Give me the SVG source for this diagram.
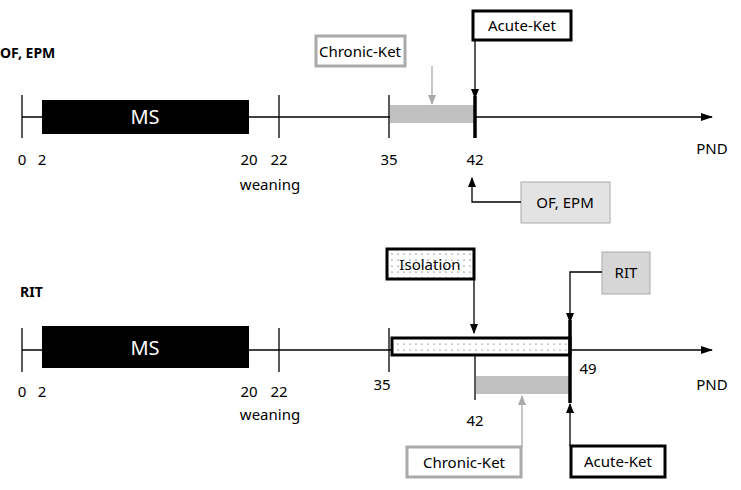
<svg xmlns="http://www.w3.org/2000/svg" width="741" height="490" viewBox="0 0 741 490">
<defs>
<marker id="ab" markerWidth="10" markerHeight="10" refX="9" refY="5" orient="auto" markerUnits="userSpaceOnUse" viewBox="0 0 10 10"><path d="M0,1 L10,5 L0,9 Z" fill="#000"/></marker>
<marker id="ag" markerWidth="10" markerHeight="10" refX="9" refY="5" orient="auto" markerUnits="userSpaceOnUse" viewBox="0 0 10 10"><path d="M0,1 L10,5 L0,9 Z" fill="#aaa"/></marker>
<marker id="ae" markerWidth="12" markerHeight="10" refX="11" refY="5" orient="auto" markerUnits="userSpaceOnUse" viewBox="0 0 12 10"><path d="M0,1 L12,5 L0,9 Z" fill="#000"/></marker>
<pattern id="dots" width="6" height="6" patternUnits="userSpaceOnUse"><rect width="6" height="6" fill="#fff"/><circle cx="2" cy="2" r="0.6" fill="#333"/></pattern>
</defs>
<style>
text{font-family:"Noto Sans","DejaVu Sans",sans-serif;font-size:15px;fill:#000}
.c{text-anchor:middle}
.b{font-weight:bold;font-size:14px}
.ms{fill:#fff;font-size:20px}
.ln{stroke:#000;stroke-width:1.3;fill:none}
.tk{stroke:#000;stroke-width:3.5}
.gbar{fill:#c0c0c0}
</style>
<rect width="741" height="490" fill="#fff"/>
<text x="0" y="58" class="b">OF, EPM</text>
<text x="20" y="297" class="b">RIT</text>
<g id="timeline1">
<line class="ln" x1="22" y1="117" x2="712" y2="117" marker-end="url(#ae)"/>
<line class="ln" x1="22" y1="95" x2="22" y2="138"/>
<line class="ln" x1="279" y1="95" x2="279" y2="138"/>
<line class="ln" x1="389" y1="95" x2="389" y2="138"/>
<rect id="ms1" x="42" y="100" width="207" height="34" fill="#000"/>
<text x="145" y="124" class="c ms">MS</text>
<rect class="gbar" x="390" y="105" width="85" height="18"/>
<line class="tk" x1="475" y1="96" x2="475" y2="138"/>
<text x="22" y="165" class="c">0</text><text x="42" y="165" class="c">2</text><text x="249" y="165" class="c">20</text><text x="279" y="165" class="c">22</text><text x="389" y="165" class="c">35</text><text x="475" y="165" class="c">42</text>
<text x="270" y="190" class="c">weaning</text>
<text x="712" y="154" class="c">PND</text>
</g>
<g id="timeline2">
<line class="ln" x1="22" y1="350" x2="712" y2="350" marker-end="url(#ae)"/>
<line class="ln" x1="22" y1="328" x2="22" y2="372"/>
<line class="ln" x1="279" y1="328" x2="279" y2="372"/>
<line class="ln" x1="389" y1="328" x2="389" y2="372"/>
<rect x="42" y="326" width="207" height="42" fill="#000"/>
<text x="145" y="355" class="c ms">MS</text>
<rect x="392" y="338" width="178" height="17" fill="url(#dots)" stroke="#000" stroke-width="3"/>
<line class="ln" x1="475" y1="355" x2="475" y2="400"/>
<rect class="gbar" x="476" y="376" width="94" height="18"/>
<line class="tk" x1="570" y1="320" x2="570" y2="403"/>
<text x="22" y="397" class="c">0</text><text x="42" y="397" class="c">2</text><text x="249" y="397" class="c">20</text><text x="279" y="397" class="c">22</text><text x="382" y="390" class="c">35</text><text x="475" y="426" class="c">42</text><text x="588" y="374" class="c">49</text>
<text x="270" y="420" class="c">weaning</text>
<text x="712" y="390" class="c">PND</text>
</g>
<g id="chronic1"><rect x="316" y="36" width="89" height="30" fill="#fff" stroke="#aaa" stroke-width="3"/><text x="360" y="57" class="c">Chronic-Ket</text></g>
<g id="acute1"><rect x="473" y="11" width="98" height="29" fill="#fff" stroke="#000" stroke-width="3"/><text x="522" y="31" class="c">Acute-Ket</text></g>
<g id="ofepm"><rect x="521" y="182" width="89" height="41" fill="#e3e3e3" stroke="#aaa" stroke-width="1"/><text x="565" y="208" class="c">OF, EPM</text></g>
<g id="isolation"><rect x="387" y="249" width="87" height="30" fill="url(#dots)" stroke="#000" stroke-width="3"/><text x="430" y="270" class="c">Isolation</text></g>
<g id="rit"><rect x="602" y="252" width="48" height="42" fill="#d6d6d6" stroke="#aaa" stroke-width="1"/><text x="626" y="278" class="c">RIT</text></g>
<g id="chronic2"><rect x="407" y="447" width="114" height="30" fill="#fff" stroke="#aaa" stroke-width="3"/><text x="464" y="468" class="c">Chronic-Ket</text></g>
<g id="acute2"><rect x="571" y="446" width="94" height="31" fill="#fff" stroke="#000" stroke-width="3"/><text x="618" y="467" class="c">Acute-Ket</text></g>
<g id="connectors">
<line x1="432" y1="66" x2="432" y2="104" stroke="#aaa" stroke-width="1.3" marker-end="url(#ag)"/>
<line class="ln" x1="475" y1="40" x2="475" y2="98" marker-end="url(#ab)"/>
<polyline class="ln" points="521,202 472,202 472,178" marker-end="url(#ab)"/>
<line class="ln" x1="474" y1="279" x2="474" y2="333" marker-end="url(#ab)"/>
<polyline class="ln" points="602,272 570,272 570,322" marker-end="url(#ab)"/>
<line x1="522" y1="447" x2="522" y2="396" stroke="#aaa" stroke-width="1.3" marker-end="url(#ag)"/>
<line class="ln" x1="570" y1="446" x2="570" y2="404" marker-end="url(#ab)"/>
</g>
</svg>
